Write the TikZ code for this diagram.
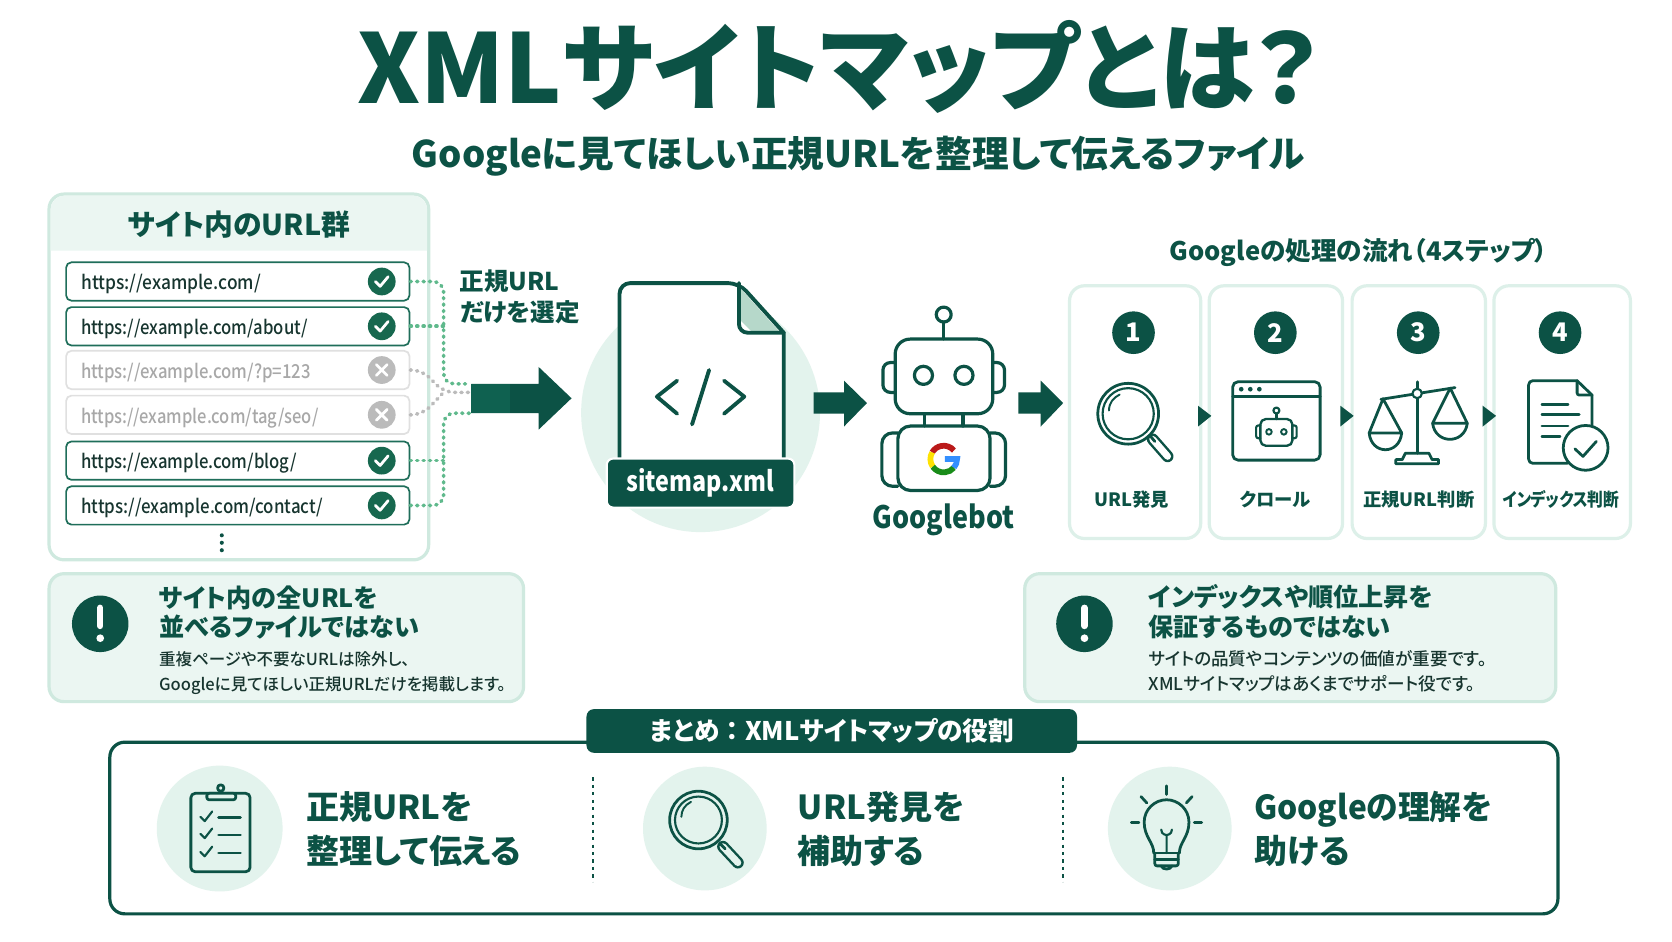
\documentclass[tikz,border=0pt]{standalone}
\usepackage{graphicx}
\usepackage{fontspec}
\setmainfont[RawFeature=+palt]{Noto Sans CJK JP}
\newfontfamily\medfont[RawFeature=+palt]{Noto Sans CJK JP Medium}
\usetikzlibrary{shapes.geometric}

\definecolor{Deep}{HTML}{0C5245}
\definecolor{Ok}{HTML}{17684F}
\definecolor{Rim}{HTML}{1F6E5A}
\definecolor{Mint}{HTML}{CFE9DF}
\definecolor{Soft}{HTML}{DDF0E9}
\definecolor{Pale}{HTML}{EBF6F2}
\definecolor{Disc}{HTML}{E3F3ED}
\definecolor{Fold}{HTML}{B6D8CA}
\definecolor{Off}{HTML}{BBBBBB}
\definecolor{OffLine}{HTML}{E0E0E0}
\definecolor{OffText}{HTML}{A8A8A8}
\definecolor{Ink}{HTML}{17352F}
\definecolor{DotGreen}{HTML}{5FB98C}
\definecolor{ShaftTail}{HTML}{0F6150}

\newcommand{\tightlatin}[2]{\scalebox{#1}[1]{#2}}

\tikzset{
  txt/.style={inner sep=0pt, text=Deep},
  titletxt/.style={txt, anchor=mid, yshift=-32pt, font=\bfseries\fontsize{90}{90}\selectfont},
  subtxt/.style={txt, anchor=mid, yshift=-10pt, font=\bfseries\fontsize{34.4}{34.4}\selectfont},
  headtxt/.style={txt, anchor=mid, yshift=-7.6pt, font=\bfseries\fontsize{27}{27}\selectfont},
  picktxt/.style={txt, anchor=mid west, yshift=-6.7pt, font=\bfseries\fontsize{23}{23}\selectfont},
  flowtxt/.style={txt, anchor=mid, yshift=-7pt, font=\bfseries\fontsize{24}{24}\selectfont},
  steptxt/.style={txt, anchor=mid, yshift=-5pt, font=\bfseries\fontsize{17.2}{17.2}\selectfont},
  warntxt/.style={txt, anchor=mid west, yshift=-6.8pt, font=\bfseries\fontsize{23.6}{23.6}\selectfont},
  smalltxt/.style={txt, anchor=mid west, yshift=-4.5pt, text=Ink, font=\medfont\fontsize{15.5}{15.5}\selectfont},
  widesmalltxt/.style={txt, anchor=mid west, yshift=-4.7pt, text=Ink, font=\medfont\fontsize{16.5}{16.5}\selectfont},
  sumtxt/.style={txt, anchor=mid west, yshift=-9pt, font=\bfseries\fontsize{31}{31}\selectfont},
  urltxt/.style={txt, anchor=mid west, yshift=-5pt, text=Ink, font=\medfont\fontsize{18}{18}\selectfont},
  offtxt/.style={urltxt, text=OffText},
  urlbox/.style={draw=Rim, line width=1.6pt, rounded corners=5pt, fill=white, minimum width=322pt, minimum height=36pt},
  offbox/.style={urlbox, draw=OffLine},
  okdot/.style={circle, fill=Ok, minimum size=26pt, inner sep=0pt},
  offdot/.style={circle, fill=Off, minimum size=26pt, inner sep=0pt},
  whitemark/.style={draw=white, line width=2.6pt, line cap=round, line join=round},
  numdot/.style={circle, fill=Deep, text=white, minimum size=40pt, inner sep=0pt, font=\bfseries\fontsize{24}{24}\selectfont},
  warndot/.style={circle, fill=Deep, minimum size=53pt, inner sep=0pt},
  card/.style={draw=Soft, line width=3pt, rounded corners=14pt, fill=white},
  warncard/.style={draw=Mint, line width=3pt, rounded corners=14pt, fill=Pale},
  icon/.style={draw=Deep, line width=2.6pt, line cap=round, line join=round},
  bigicon/.style={draw=Deep, line width=3.6pt, line cap=round, line join=round},
  solid arrow/.style={fill=Deep},
  greendot/.style={draw=DotGreen, line width=3.4pt, dash pattern=on 1pt off 5pt, line cap=round, rounded corners=10pt},
  graydot/.style={greendot, draw=Off},
  labelbox/.style={draw=white, line width=2pt, fill=Deep, text=white, rounded corners=6pt, minimum width=176pt, minimum height=46pt, inner sep=0pt, font=\bfseries\fontsize{26}{26}\selectfont},
  tagbox/.style={fill=Deep, text=white, rounded corners=7pt, minimum width=460pt, minimum height=41pt, inner sep=0pt, font=\bfseries\fontsize{24}{24}\selectfont},
}

\begin{document}
\begin{tikzpicture}[x=1pt, y=-1pt]

 \useasboundingbox [fill=white] (0,0) rectangle (1568,882.5);

 %%%%%%%%%% Points pour travailler %%%%%%%%%%
 \coordinate (jointop) at (441,360);
 \coordinate (joinmid) at (441,368);
 \coordinate (joinbot) at (441,387.5);
 \coordinate (railtop) at (416,360);
 \coordinate (railmid) at (416,368);
 \coordinate (railbot) at (416,387.5);

 %%%%%%%%%% Titles %%%%%%%%%%
 \node (title) at (787,62) [titletxt] {XMLサイトマップとは？};
 \node (subtitle) at (805,144) [subtxt] {Googleに見てほしい正規URLを整理して伝えるファイル};

 %%%%%%%%%% URL panel %%%%%%%%%%
 \draw [card, draw=Mint] (46,182) rectangle (402,525);
 \fill [Pale] (47.5,235) [rounded corners=13pt] -- (47.5,183.5) -- (400.5,183.5) [sharp corners] -- (400.5,235) -- cycle;
 \node (panelhead) at (224,211) [headtxt] {サイト内のURL群};

 \node (row1) at (223,264) [urlbox] {};
 \node (row2) at (223,306) [urlbox] {};
 \node (row3) at (223,347) [offbox] {};
 \node (row4) at (223,389) [offbox] {};
 \node (row5) at (223,432) [urlbox] {};
 \node (row6) at (223,474) [urlbox] {};

 \node (url1) at (76,264) [urltxt] {\tightlatin{0.905}{https://example.com/}};
 \node (url2) at (76,306) [urltxt] {\tightlatin{0.87}{https://example.com/about/}};
 \node (url3) at (76,347) [offtxt] {\tightlatin{0.87}{https://example.com/?p=123}};
 \node (url4) at (76,389) [offtxt] {\tightlatin{0.86}{https://example.com/tag/seo/}};
 \node (url5) at (76,432) [urltxt] {\tightlatin{0.87}{https://example.com/blog/}};
 \node (url6) at (76,474) [urltxt] {\tightlatin{0.88}{https://example.com/contact/}};

 \node (ok1) at (358,264) [okdot] {};
 \node (ok2) at (358,306) [okdot] {};
 \node (no3) at (358,347) [offdot] {};
 \node (no4) at (358,389) [offdot] {};
 \node (ok5) at (358,432) [okdot] {};
 \node (ok6) at (358,474) [okdot] {};

 \draw [whitemark] (352,264) -- (356.5,268.5) -- (364,259.5);
 \draw [whitemark] (352,306) -- (356.5,310.5) -- (364,301.5);
 \draw [whitemark] (353,342) -- (363,352) (363,342) -- (353,352);
 \draw [whitemark] (353,384) -- (363,394) (363,384) -- (353,394);
 \draw [whitemark] (352,432) -- (356.5,436.5) -- (364,427.5);
 \draw [whitemark] (352,474) -- (356.5,478.5) -- (364,469.5);

 \fill [Deep] (208,502) circle [radius=1.9];
 \fill [Deep] (208,509) circle [radius=1.9];
 \fill [Deep] (208,516) circle [radius=1.9];

 %%%%%%%%%% Selection lines %%%%%%%%%%
 \draw [greendot] (row1.east) -- (416,264) -- (railtop) -- (jointop);
 \draw [greendot] (row2.east) -- (416,306);
 \draw [greendot] (row5.east) -- (416,432);
 \draw [greendot] (row6.east) -- (416,474) -- (railbot) -- (joinbot);
 \draw [graydot] (row3.east) -- (396,347) -- (railmid) -- (joinmid);
 \draw [graydot] (row4.east) -- (396,389) -- (railmid);

 \node (pick1) at (431,263) [picktxt] {正規URL};
 \node (pick2) at (431,292) [picktxt] {だけを選定};

 \fill [solid arrow] (442,360) -- (505,360) -- (505,344) -- (536,373.5) -- (505,403) -- (505,387.5) -- (442,387.5) -- cycle;
 \fill [ShaftTail] (442,360) rectangle (478,387.5);

 %%%%%%%%%% sitemap.xml %%%%%%%%%%
 \fill [Disc] (657,387) circle [radius=112];
 \draw [bigicon, fill=white] (581,431) [rounded corners=10pt] -- (581,265.5) -- (693,265.5) [sharp corners] -- (735,312) -- (735,431);
 \fill [Fold] (694,270) -- (731,311) -- (705,311) -- (694,300) -- cycle;
 \draw [bigicon] (693,265.5) -- (693,298) [rounded corners=8pt] -- (693,312) -- (735,312);
 \draw [bigicon] (635,357) -- (616,372) -- (635,388);
 \draw [bigicon] (665,347) -- (649,398);
 \draw [bigicon] (679,357) -- (698,372) -- (679,388);
 \node (sitemap) at (657,453) [labelbox, text height=18pt, text depth=3pt] {\tightlatin{0.84}{sitemap.xml}};

 \fill [solid arrow] (763,368) -- (791.5,368) -- (791.5,357) -- (813,378) -- (791.5,400) -- (791.5,388) -- (763,388) -- cycle;

 %%%%%%%%%% Googlebot %%%%%%%%%%
 \draw [icon, line width=3pt] (885,302) -- (885,318);
 \draw [icon, line width=3pt] (885,295) circle [radius=7];
 \draw [icon, line width=3pt, rounded corners=14pt] (839.5,318) rectangle (931,388);
 \draw [icon, line width=3pt, rounded corners=7pt] (839.5,340) -- (828,340) -- (828,368) -- (839.5,368);
 \draw [icon, line width=3pt, rounded corners=7pt] (931,340) -- (942,340) -- (942,368) -- (931,368);
 \draw [icon, line width=3pt] (866,352) circle [radius=8.5];
 \draw [icon, line width=3pt] (904,352) circle [radius=8.5];
 \draw [icon, line width=3pt] (867,388) -- (867,399.5);
 \draw [icon, line width=3pt] (903,388) -- (903,399.5);
 \draw [icon, line width=3pt, rounded corners=12pt] (842,399.5) rectangle (928.5,460);
 \draw [icon, line width=3pt, rounded corners=10pt] (842,406) -- (827,406) -- (827,456) -- (842,456);
 \draw [icon, line width=3pt, rounded corners=10pt] (928.5,406) -- (943,406) -- (943,456) -- (928.5,456);
 \begin{scope}[shift={(885,430.5)}, y=1pt, line width=5.4pt]
  \draw [color=red!70!black!90!white] (40:12.5) arc [start angle=40, end angle=150, radius=12.5];
  \draw [color=yellow!85!orange] (150:12.5) arc [start angle=150, end angle=215, radius=12.5];
  \draw [color=green!50!black!90!white] (215:12.5) arc [start angle=215, end angle=320, radius=12.5];
  \draw [color=blue!55!cyan!80!white] (320:12.5) arc [start angle=320, end angle=360, radius=12.5] -- (1,0);
 \end{scope}
 \node (bot) at (885,485) [txt, anchor=mid, yshift=-8pt, font=\bfseries\fontsize{29}{29}\selectfont] {\tightlatin{0.87}{Googlebot}};

 \fill [solid arrow] (955,368) -- (976,368) -- (976,357) -- (997,378) -- (976,400) -- (976,388) -- (955,388) -- cycle;

 %%%%%%%%%% Steps %%%%%%%%%%
 \node (flow) at (1274,235) [flowtxt] {Googleの処理の流れ（4ステップ）};

 \draw [card] (1003,268) rectangle (1126,505);
 \draw [card] (1134,268) rectangle (1259,505);
 \draw [card] (1268,268) rectangle (1393,505);
 \draw [card] (1401,268) rectangle (1529,505);

 \node (num1) at (1063,312) [numdot] {1};
 \node (num2) at (1196,312) [numdot] {2};
 \node (num3) at (1330,312) [numdot] {3};
 \node (num4) at (1463,312) [numdot] {4};

 \fill [Deep] (1123.5,380.5) -- (1136,390) -- (1123.5,400) -- cycle;
 \fill [Deep] (1257,380.5) -- (1269.5,390) -- (1257,400) -- cycle;
 \fill [Deep] (1390.5,380.5) -- (1403,390) -- (1390.5,400) -- cycle;

 % Magnifier
 \draw [icon] (1058,388) circle [radius=28.5];
 \draw [icon, line width=2pt] (1058,388) circle [radius=24];
 \draw [icon, line width=1.8pt] (1040,385) .. controls (1040,378) and (1044,373) .. (1050,370);
 \draw [icon, line width=11pt] (1081,412) -- (1095,428);
 \draw [draw=white, line width=6.4pt, line cap=round] (1081,412) -- (1095,428);
 \draw [icon] (1078,408) -- (1083,414);

 % Browser
 \draw [icon, rounded corners=5pt] (1156,358) rectangle (1238,431.5);
 \draw [icon] (1156,372) -- (1238,372);
 \fill [Deep] (1164,365) circle [radius=2.2];
 \fill [Deep] (1172.5,365) circle [radius=2.2];
 \fill [Deep] (1181,365) circle [radius=2.2];
 \draw [icon, line width=2.2pt, rounded corners=5pt] (1182,393) rectangle (1212,418);
 \draw [icon, line width=2.2pt] (1197,388) -- (1197,393);
 \draw [icon, line width=2pt] (1197,385) circle [radius=2.8];
 \draw [icon, line width=2pt, rounded corners=2pt] (1182,399) -- (1178,399) -- (1178,411) -- (1182,411);
 \draw [icon, line width=2pt, rounded corners=2pt] (1212,399) -- (1216,399) -- (1216,411) -- (1212,411);
 \draw [icon, line width=1.8pt] (1190,405) circle [radius=2.6];
 \draw [icon, line width=1.8pt] (1204,405) circle [radius=2.6];

 % Scales
 \draw [icon] (1329,358) -- (1329,425);
 \draw [icon] (1295,374.5) -- (1364.5,363.5);
 \draw [icon, fill=white, line width=2pt] (1329,369) circle [radius=4.4];
 \draw [icon] (1297,374) -- (1284,406) -- (1314.5,406) -- cycle;
 \draw [icon] (1284,406) .. controls (1286,427) and (1312.5,427) .. (1314.5,406);
 \draw [icon] (1360,364) -- (1343.5,397) -- (1376,397) -- cycle;
 \draw [icon] (1343.5,397) .. controls (1346,417) and (1373.5,417) .. (1376,397);
 \draw [icon] (1318,425) -- (1340,425) -- (1343,431) -- (1349,431) -- (1349,435) -- (1309,435) -- (1309,431) -- (1315,431) -- cycle;

 % Document
 \draw [icon] (1493,406) -- (1493,370.5) -- (1479,357) [rounded corners=4pt] -- (1433.5,357) -- (1433.5,434.5) -- (1470,434.5);
 \draw [icon, rounded corners=2pt] (1479,357) -- (1479,370.5) -- (1493,370.5);
 \draw [icon] (1446,379) -- (1470.5,379);
 \draw [icon] (1446,389) -- (1481,389);
 \draw [icon] (1446,399.5) -- (1470.5,399.5);
 \draw [icon] (1446,409.5) -- (1463,409.5);
 \draw [icon, fill=white] (1487,420) circle [radius=21];
 \draw [icon] (1477,421) -- (1484.5,428) -- (1497,414);

 \node (step1) at (1061,467) [steptxt] {URL発見};
 \node (step2) at (1196,467) [steptxt] {クロール};
 \node (step3) at (1330.5,467) [steptxt] {正規URL判断};
 \node (step4) at (1464,467) [steptxt] {\tightlatin{0.86}{インデックス判断}};

 %%%%%%%%%% Warnings %%%%%%%%%%
 \draw [warncard] (46,538) rectangle (491,658);
 \draw [warncard] (961,538) rectangle (1459,658);

 \node (warn1) at (94,585) [warndot] {};
 \node (warn2) at (1017,585) [warndot] {};
 \draw [whitemark, line width=6pt] (94,570) -- (94,587);
 \fill [white] (94,598.5) circle [radius=3.6];
 \draw [whitemark, line width=6pt] (1017,570) -- (1017,587);
 \fill [white] (1017,598.5) circle [radius=3.6];

 \node (warn1a) at (149,560) [warntxt] {サイト内の全URLを};
 \node (warn1b) at (149,587) [warntxt] {並べるファイルではない};
 \node (warn1c) at (149,617) [smalltxt] {重複ページや不要なURLは除外し、};
 \node (warn1d) at (149,640) [smalltxt] {Googleに見てほしい正規URLだけを掲載します。};

 \node (warn2a) at (1077,559) [warntxt] {インデックスや順位上昇を};
 \node (warn2b) at (1077,587) [warntxt] {保証するものではない};
 \node (warn2c) at (1077,617) [widesmalltxt] {サイトの品質やコンテンツの価値が重要です。};
 \node (warn2d) at (1077,640) [widesmalltxt] {XMLサイトマップはあくまでサポート役です。};

 %%%%%%%%%% Summary %%%%%%%%%%
 \draw [draw=Deep, line width=3pt, rounded corners=14pt] (103,696) rectangle (1461,857);
 \node (tag) at (780,685.5) [tagbox] {まとめ\hspace{6pt}：\hspace{6pt}XMLサイトマップの役割};

 \fill [Disc] (206,777) circle [radius=59];
 \fill [Disc] (661,777) circle [radius=58];
 \fill [Disc] (1097,777) circle [radius=58];

 \draw [draw=Deep, line width=1.6pt, dash pattern=on 3pt off 4pt] (556,729) -- (556,827);
 \draw [draw=Deep, line width=1.6pt, dash pattern=on 3pt off 4pt] (997,729) -- (997,827);

 % Clipboard
 \draw [icon, rounded corners=4pt] (179,744) rectangle (234.5,817.5);
 \draw [icon, fill=Disc, rounded corners=2pt] (194,744) rectangle (221,750);
 \draw [icon, fill=Disc] (207,739) circle [radius=3];
 \draw [icon, line width=2pt] (188,766) -- (192,770) -- (199,761);
 \draw [icon, line width=2pt] (188,782) -- (192,786) -- (199,777);
 \draw [icon, line width=2pt] (188,799) -- (192,803) -- (199,794);
 \draw [icon] (205,767) -- (225.5,767);
 \draw [icon] (205,783) -- (225.5,783);
 \draw [icon] (205,800) -- (225.5,800);

 % Magnifier
 \draw [icon] (655,769) circle [radius=27];
 \draw [icon, line width=2pt] (655,769) circle [radius=22];
 \draw [icon, line width=1.8pt] (639,766) .. controls (639,760) and (642,755) .. (648,752);
 \draw [icon, line width=11pt] (678,794) -- (692,809);
 \draw [draw=Disc, line width=6.4pt, line cap=round] (678,794) -- (692,809);
 \draw [icon] (675,791) -- (680,796);

 % Bulb
 \draw [icon] (1082,800) .. controls (1082,790) and (1073,785) .. (1073,771) .. controls (1073,759) and (1083,750) .. (1094,750) .. controls (1105,750) and (1115,759) .. (1115,771) .. controls (1115,785) and (1106,790) .. (1106,800);
 \draw [icon] (1082,800) -- (1106,800) (1083,806) -- (1105,806);
 \draw [icon, rounded corners=2pt] (1083,800) -- (1083,812) -- (1105,812) -- (1105,800);
 \draw [icon] (1089,812) .. controls (1090,816) and (1098,816) .. (1099,812);
 \draw [icon, line width=2pt] (1094,800) -- (1094,783) (1089,778) .. controls (1089,783) and (1094,783) .. (1094,783) .. controls (1094,783) and (1099,783) .. (1099,778);
 \draw [icon] (1094,737) -- (1094,745);
 \draw [icon] (1070,747) -- (1075.5,753);
 \draw [icon] (1118,747) -- (1112.5,753);
 \draw [icon] (1061,771.5) -- (1068,771.5);
 \draw [icon] (1120,771.5) -- (1127,771.5);

 \node (sum1a) at (287,757) [sumtxt] {正規URLを};
 \node (sum1b) at (287,798) [sumtxt] {整理して伝える};
 \node (sum2a) at (748,757) [sumtxt] {URL発見を};
 \node (sum2b) at (748,798) [sumtxt] {補助する};
 \node (sum3a) at (1176,757) [sumtxt] {\tightlatin{0.96}{Googleの理解を}};
 \node (sum3b) at (1176,798) [sumtxt] {助ける};

\end{tikzpicture}
\end{document}
